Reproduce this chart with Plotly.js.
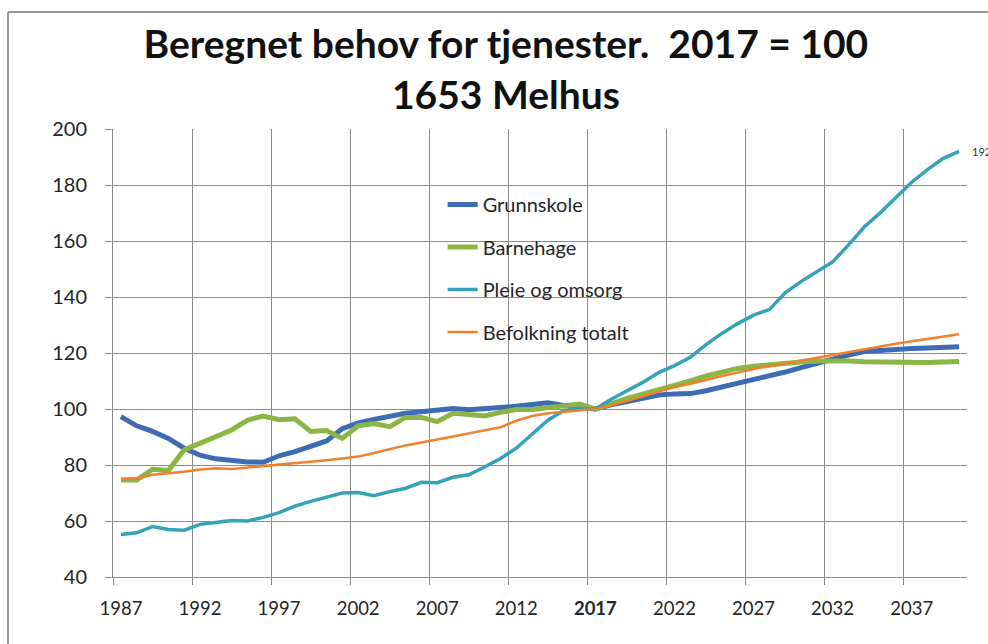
<!DOCTYPE html>
<html>
<head>
<meta charset="utf-8">
<script src="https://cdn.plot.ly/plotly-3.0.1.min.js"></script>
<style>html,body{margin:0;padding:0;background:#fff;}#chart{width:988px;height:644px;}</style>
</head>
<body>
<div id="chart"></div>
<script>
const years = [];
for (let y = 1987; y <= 2040; y++) years.push(y);

const seriesNames = ["Grunnskole", "Barnehage", "Pleie og omsorg", "Befolkning totalt"];

const grunnskole = [97.3, 94, 92, 89.5, 86, 83.5, 82.2, 81.5, 81.1, 81,
  83.3, 84.8, 86.8, 88.6, 93, 95, 96.3, 97.6, 98.5, 99,
  99.8, 100.2, 99.7, 99.9, 100.5, 101, 101.5, 102.2, 101.3, 100.5,
  100, 101.5, 102.8, 103.8, 105, 105.4, 105.5, 106.5, 107.8, 109.2,
  110.4, 111.8, 113.2, 114.8, 116.3, 118, 119.3, 120.5, 121, 121.3,
  121.6, 121.8, 122, 122.2];

const barnehage = [74.6, 74.6, 78.5, 78, 85.4, 87.8, 90, 92.5, 96, 97.5,
  96.2, 96.5, 92, 92.3, 89.5, 94, 94.8, 93.7, 97, 97,
  95.5, 98.5, 98, 97.5, 98.8, 99.8, 99.8, 100.5, 101, 101.8,
  100, 102, 103.8, 105.3, 106.8, 108.2, 110, 111.8, 113.3, 114.5,
  115.3, 115.9, 116.4, 116.8, 117.1, 117.3, 117.1, 116.9, 116.8, 116.8,
  116.5, 116.6, 116.8, 117];

const pleie = [55.2, 55.8, 58, 57, 56.7, 58.8, 59.5, 60.2, 60, 61.3,
  63, 65.3, 67, 68.5, 70, 70.2, 69, 70.5, 71.7, 73.8,
  73.7, 75.6, 76.5, 79.3, 82.3, 86, 91, 96, 99.5, 100.2,
  100, 103.5, 106.5, 109.5, 113, 115.5, 118.5, 123, 127, 130.5,
  133.5, 135.5, 141.5, 145.5, 149, 152.5, 158.5, 165, 170, 175.5,
  181, 185.5, 189.5, 192];

const befolkning = [75, 75.3, 76.5, 77, 77.6, 78.4, 78.8, 78.6, 79.1, 79.5,
  80.2, 80.7, 81.1, 81.7, 82.3, 83, 84.3, 85.7, 87, 88,
  89, 90.2, 91.3, 92.3, 93.5, 95.8, 97.5, 98.5, 99, 99.5,
  100, 101.3, 102.8, 104.5, 106.2, 107.8, 109, 110.5, 111.8, 113,
  114.3, 115.3, 116.3, 117.3, 118.3, 119.5, 120.5, 121.5, 122.5, 123.3,
  124.2, 125, 125.9, 126.7];

const tickYears = [1987, 1992, 1997, 2002, 2007, 2012, 2017, 2022, 2027, 2032, 2037];
const tickLabels = ["1987", "1992", "1997", "2002", "2007", "2012", "<b>2017</b>", "2022", "2027", "2032", "2037"];
const lastLabel = "192";

const colors = ["#3d6cb4", "#8bb646", "#35a2b7", "#f27f2c"];
const widths = [5, 5, 3.5, 2.5];
const allSeries = [grunnskole, barnehage, pleie, befolkning];

const traces = allSeries.map((vals, i) => ({
  type: "scatter",
  mode: "lines",
  x: years,
  y: vals,
  name: seriesNames[i],
  legendgroup: "g" + i,
  line: { color: colors[i], width: widths[i] },
  hoverinfo: "x+y+name"
}));

const boundaries = tickYears.map(v => v - 0.5);

const FONT = "Lato, 'Open Sans', sans-serif";

const layout = {
  width: 988,
  height: 644,
  paper_bgcolor: "#ffffff",
  plot_bgcolor: "#ffffff",
  margin: { l: 113, r: 21, t: 129, b: 67 },
  font: { family: FONT, color: "#262626" },
  title: {
    text: "<b>Beregnet behov for tjenester.\u00a0\u00a02017 = 100</b><br><b>1653 Melhus</b>",
    font: { family: FONT, size: 39, color: "#111111" },
    x: 0.512,
    xanchor: "center",
    y: 0.91,
    yanchor: "top"
  },
  xaxis: {
    type: "linear",
    range: [1986.5, 2040.5],
    tickmode: "array",
    tickvals: tickYears,
    ticktext: tickLabels,
    ticks: "",
    showgrid: false,
    zeroline: false,
    showline: true,
    linecolor: "#8a8a8a",
    linewidth: 1,
    tickfont: { family: FONT, size: 18.5, color: "#262626" },
    ticklabelstandoff: 15,
    minor: {
      tickmode: "array",
      tickvals: boundaries,
      ticks: "outside",
      ticklen: 7,
      tickwidth: 1,
      tickcolor: "#8a8a8a",
      showgrid: true,
      gridcolor: "#8c8c8c",
      gridwidth: 1
    },
    fixedrange: true
  },
  yaxis: {
    range: [40, 200],
    tickmode: "linear",
    tick0: 40,
    dtick: 20,
    ticks: "outside",
    ticklen: 7,
    tickcolor: "#8a8a8a",
    showgrid: true,
    gridcolor: "#8c8c8c",
    gridwidth: 1,
    zeroline: false,
    showline: true,
    linecolor: "#8a8a8a",
    linewidth: 1,
    tickfont: { family: FONT, size: 20, color: "#262626" },
    ticklabelstandoff: 14,
    fixedrange: true
  },
  showlegend: true,
  legend: {
    x: 0.386,
    xanchor: "left",
    y: 0.875,
    yanchor: "top",
    bgcolor: "rgba(255,255,255,0)",
    borderwidth: 0,
    font: { family: FONT, size: 20, color: "#262626" },
    tracegroupgap: 13.5,
    traceorder: "grouped"
  },
  annotations: [{
    x: years[years.length - 1],
    y: pleie[pleie.length - 1],
    xref: "x",
    yref: "y",
    text: lastLabel,
    showarrow: false,
    xanchor: "left",
    xshift: 11,
    font: { family: FONT, size: 11, color: "#333333" }
  }],
  shapes: [
    { type: "line", xref: "paper", yref: "paper",
      x0: (8 - 113) / 854, x1: (8 - 113) / 854, y0: (577 - 12) / 448, y1: (577 - 650) / 448,
      line: { color: "#7a7a7a", width: 1.5 } },
    { type: "line", xref: "paper", yref: "paper",
      x0: (8 - 113) / 854, x1: (995 - 113) / 854, y0: (577 - 12) / 448, y1: (577 - 12) / 448,
      line: { color: "#7a7a7a", width: 1.5 } }
  ]
};

Plotly.newPlot("chart", traces, layout, { displayModeBar: false, staticPlot: true });
</script>
</body>
</html>
